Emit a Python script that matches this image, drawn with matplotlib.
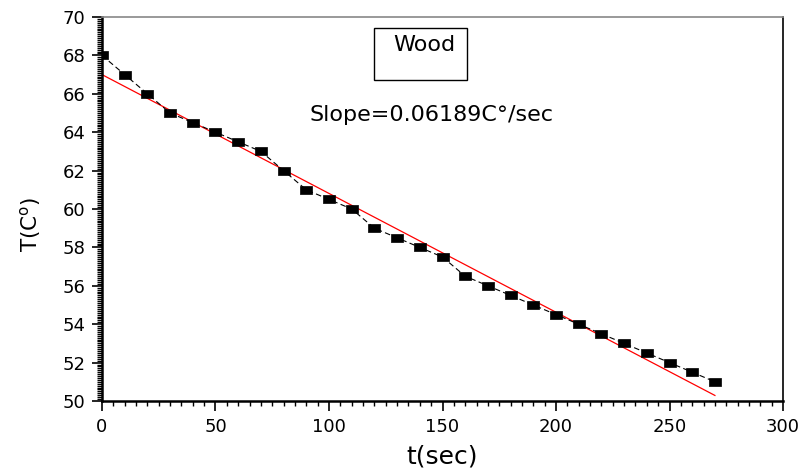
import matplotlib
matplotlib.use("Agg")
import matplotlib.pyplot as plt
from matplotlib.patches import Rectangle
from matplotlib.ticker import MultipleLocator
import numpy as np

plt.rcParams['font.family'] = ['DejaVu Sans']

# time (sec) and temperature (C)
t_sec = [0, 10, 20, 30, 40, 50, 60, 70, 80, 90, 100, 110, 120, 130,
         140, 150, 160, 170, 180, 190, 200, 210, 220, 230, 240, 250, 260, 270]
temp_c = [68, 67, 66, 65, 64.5, 64, 63.5, 63, 62, 61, 60.5, 60, 59, 58.5,
          58, 57.5, 56.5, 56, 55.5, 55, 54.5, 54, 53.5, 53, 52.5, 52, 51.5, 51]

# linear fit
fit_intercept = 67.0
fit_slope = -0.06189

legend_label = "Wood"
slope_text = "Slope=0.06189C\u00b0/sec"

fig = plt.figure(figsize=(8.05, 4.70), dpi=100)
ax = fig.add_axes([0.1267, 0.1468, 0.846, 0.817])

# rectangular marker like the original
rect_marker = [(-1, -0.72), (1, -0.72), (1, 0.72), (-1, 0.72), (-1, -0.72)]

ax.plot(t_sec, temp_c, color="black", lw=0.8, ls=(0, (5, 3)),
        marker=rect_marker, markersize=8.8, markeredgewidth=0.5,
        markerfacecolor="black", markeredgecolor="black", zorder=3)

tt = np.array([t_sec[0], t_sec[-1]])
ax.plot(tt, fit_intercept + fit_slope * tt, color="red", lw=0.9, zorder=2)

ax.set_xlim(0, 300)
ax.set_ylim(50, 70)
ax.xaxis.set_major_locator(MultipleLocator(50))
ax.xaxis.set_minor_locator(MultipleLocator(5))
ax.yaxis.set_major_locator(MultipleLocator(2))
ax.yaxis.set_minor_locator(MultipleLocator(0.1))

ax.tick_params(which="major", direction="out", length=7, width=1.2,
               labelsize=13, top=False, right=False, pad=5)
ax.tick_params(which="minor", direction="out", length=3.5, width=1.0,
               top=False, right=False)

ax.spines["left"].set_linewidth(1.8)
ax.spines["bottom"].set_linewidth(1.8)
ax.spines["right"].set_linewidth(1.2)
ax.spines["top"].set_linewidth(1.2)
ax.spines["top"].set_color("#888888")

ax.set_xlabel("t(sec)", fontsize=18, labelpad=6)
ax.set_ylabel("T(C$^{\\mathregular{o}}$)", fontsize=15.5)
ax.yaxis.set_label_coords(-0.086, 0.46)

# legend box (Origin style)
ax.add_patch(Rectangle((0.3994, 0.836), 0.1366, 0.135, transform=ax.transAxes,
                       fill=False, edgecolor="black", lw=1.0, zorder=4))
ax.text(0.473, 0.927, legend_label, transform=ax.transAxes, ha="center",
        va="center", fontsize=16)

ax.text(0.305, 0.745, slope_text, transform=ax.transAxes, ha="left",
        va="center", fontsize=16)

fig.savefig("out.png", dpi=100)
